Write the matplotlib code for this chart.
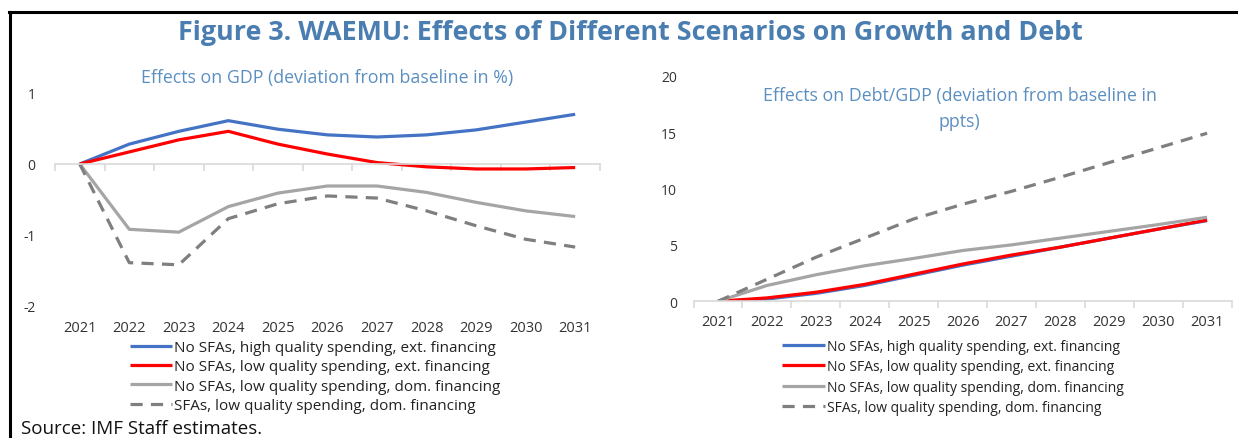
import matplotlib.pyplot as plt
from matplotlib.lines import Line2D
import numpy as np

plt.rcParams['font.family'] = ['Open Sans', 'DejaVu Sans']
plt.rcParams['axes.unicode_minus'] = False

years = list(range(2021, 2032))
labels = ["No SFAs, high quality spending, ext. financing",
          "No SFAs, low quality spending, ext. financing",
          "No SFAs, low quality spending, dom. financing",
          "SFAs, low quality spending, dom. financing"]

# effects on GDP (deviation from baseline in %)
gdp_high_ext = [0, 0.28, 0.46, 0.61, 0.49, 0.41, 0.38, 0.41, 0.48, 0.59, 0.70]
gdp_low_ext = [0, 0.17, 0.34, 0.46, 0.28, 0.14, 0.02, -0.04, -0.07, -0.07, -0.05]
gdp_low_dom = [0, -0.92, -0.96, -0.60, -0.41, -0.31, -0.31, -0.40, -0.54, -0.66, -0.74]
gdp_sfa = [0, -1.39, -1.42, -0.77, -0.56, -0.45, -0.48, -0.66, -0.87, -1.06, -1.17]

# effects on debt/GDP (deviation from baseline in ppts)
debt_high_ext = [0, 0.2, 0.7, 1.4, 2.3, 3.2, 4.0, 4.8, 5.6, 6.4, 7.15]
debt_low_ext = [0, 0.3, 0.8, 1.5, 2.4, 3.3, 4.1, 4.8, 5.6, 6.4, 7.2]
debt_low_dom = [0, 1.4, 2.35, 3.15, 3.8, 4.5, 5.0, 5.6, 6.2, 6.8, 7.45]
debt_sfa = [0, 1.95, 3.9, 5.6, 7.3, 8.6, 9.75, 11.0, 12.3, 13.6, 14.9]

colors = ['#4472C4', '#FF0000', '#A5A5A5', '#7F7F7F']
styles = ['-', '-', '-', (0, (3.8, 2.6))]
title_col = '#4A7EB0'
sub_col = '#5B8FC0'
axis_col = '#D9D9D9'
txt_col = '#333333'

fig = plt.figure(figsize=(12.38, 4.39), dpi=100)

ax1 = fig.add_axes([0.0444, 0.3007, 0.4402, 0.4852])
ax2 = fig.add_axes([0.5602, 0.3114, 0.4346, 0.5139])

for ax, series in ((ax1, [gdp_high_ext, gdp_low_ext, gdp_low_dom, gdp_sfa]),
                   (ax2, [debt_high_ext, debt_low_ext, debt_low_dom, debt_sfa])):
    for s, c, ls, lab in zip(series, colors, styles, labels):
        ax.plot(years, s, color=c, ls=ls, lw=2.3, label=lab, solid_capstyle='butt')
    ax.set_xlim(years[0] - 0.5, years[-1] + 0.5)
    ax.set_xticks(years)
    ax.set_xticklabels([str(y) for y in years])
    ax.set_xticks(np.arange(years[0] - 0.5, years[-1] + 1, 1), minor=True)
    for sp in ('left', 'right'):
        ax.spines[sp].set_visible(False)
    ax.tick_params(axis='y', length=0, labelsize=10, labelcolor=txt_col, pad=14)
    ax.tick_params(axis='x', which='major', length=0, labelsize=10.5, labelcolor=txt_col)
    ax.patch.set_alpha(0)

# left: zero line with category ticks, labels at the bottom
ax1.set_ylim(-2, 1)
ax1.set_yticks([-2, -1, 0, 1])
ax1.spines['bottom'].set_visible(False)
ax1.spines['top'].set_position(('data', 0))
ax1.spines['top'].set_color(axis_col)
ax1.spines['top'].set_linewidth(1.2)
ax1.tick_params(axis='x', which='minor', bottom=False, top=True, direction='in',
                length=5, color=axis_col, width=1.2)
ax1.tick_params(axis='x', which='major', pad=10)
ax1.set_title("Effects on GDP (deviation from baseline in %)", color=sub_col,
              fontsize=12.8, pad=8)

ax2.set_ylim(0, 20)
ax2.set_yticks([0, 5, 10, 15, 20])
ax2.spines['top'].set_visible(False)
ax2.spines['bottom'].set_color(axis_col)
ax2.spines['bottom'].set_linewidth(1.2)
ax2.tick_params(axis='x', which='minor', direction='out', length=5,
                color=axis_col, width=1.2)
ax2.tick_params(axis='x', which='major', pad=9)
ax2.tick_params(axis='y', pad=12)
ax2.text(0.495, 0.955, "Effects on Debt/GDP (deviation from baseline in\nppts)",
         transform=ax2.transAxes, ha='center', va='top', color=sub_col,
         fontsize=12.8, linespacing=1.6)

ax1.legend(loc='upper left', bbox_to_anchor=(0.138, -0.16), frameon=False,
           fontsize=11, handlelength=2.75, handletextpad=0.15, labelspacing=0.28,
           borderaxespad=0, borderpad=0, labelcolor='#222222')
ax2.legend(loc='upper left', bbox_to_anchor=(0.165, -0.165), frameon=False,
           fontsize=10, handlelength=3.1, handletextpad=0.15, labelspacing=0.4,
           borderaxespad=0, borderpad=0, labelcolor='#222222')

fig.text(0.509, 0.925, "Figure 3. WAEMU: Effects of Different Scenarios on Growth and Debt",
         ha='center', va='center', color=title_col, fontsize=19.4, fontweight='bold')
fig.text(0.017, 1 - 420 / 439, "Source: IMF Staff estimates.", ha='left', va='top',
         fontsize=13.5, color='#111111')

# frame of the figure box (top and left edges)
fig.add_artist(Line2D([9 / 1238, 1], [1 - 13 / 439, 1 - 13 / 439],
                      transform=fig.transFigure, color='black', lw=2.2))
fig.add_artist(Line2D([10 / 1238, 10 / 1238], [0, 1 - 13 / 439],
                      transform=fig.transFigure, color='black', lw=2.2))

fig.savefig('out.png', dpi=100)
